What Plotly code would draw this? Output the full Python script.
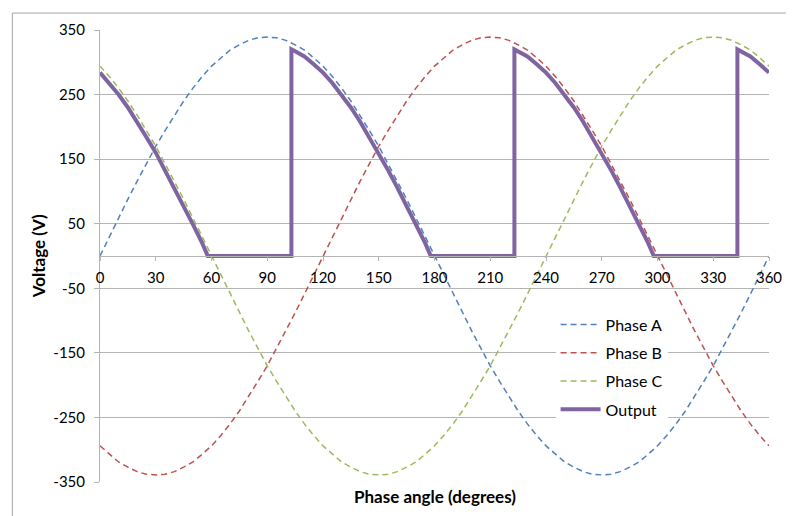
import plotly.graph_objects as go

# Phase angle samples (degrees)
angle_deg = [0, 5, 10, 15, 20, 25, 30, 35, 40, 45, 50, 55, 60, 65, 70, 75, 80, 85, 90,
             95, 100, 105, 110, 115, 120, 125, 130, 135, 140, 145, 150, 155, 160, 165, 170, 175, 180,
             185, 190, 195, 200, 205, 210, 215, 220, 225, 230, 235, 240, 245, 250, 255, 260, 265, 270,
             275, 280, 285, 290, 295, 300, 305, 310, 315, 320, 325, 330, 335, 340, 345, 350, 355, 360]

phase_a = [0, 30, 59, 88, 116, 143, 170, 194, 218, 240, 260, 278, 294, 307, 319, 327, 334, 338, 339,
           338, 334, 327, 319, 307, 294, 278, 260, 240, 218, 194, 170, 143, 116, 88, 59, 30, 0,
           -30, -59, -88, -116, -143, -170, -194, -218, -240, -260, -278, -294, -307, -319, -327, -334, -338, -339,
           -338, -334, -327, -319, -307, -294, -278, -260, -240, -218, -194, -170, -143, -116, -88, -59, -30, 0]

phase_b = [-294, -307, -319, -327, -334, -338, -339, -338, -334, -327, -319, -307,
           -294, -278, -260, -240, -218, -194, -170, -143, -116, -88, -59, -30,
           0, 30, 59, 88, 116, 143, 170, 194, 218, 240, 260, 278, 294, 307, 319, 327, 334, 338, 339,
           338, 334, 327, 319, 307, 294, 278, 260, 240, 218, 194, 170, 143, 116, 88, 59, 30, 0,
           -30, -59, -88, -116, -143, -170, -194, -218, -240, -260, -278, -294]

phase_c = [294, 278, 260, 240, 218, 194, 170, 143, 116, 88, 59, 30, 0,
           -30, -59, -88, -116, -143, -170, -194, -218, -240, -260, -278, -294, -307, -319, -327, -334, -338, -339,
           -338, -334, -327, -319, -307, -294, -278, -260, -240, -218, -194, -170, -143, -116, -88, -59, -30,
           0, 30, 59, 88, 116, 143, 170, 194, 218, 240, 260, 278, 294, 307, 319, 327, 334, 338, 339,
           338, 334, 327, 319, 307, 294]

output_deg = [0, 5, 10, 15, 20, 25, 30, 35, 40, 45, 50, 55, 58,
              103, 103, 105, 110, 115, 120, 125, 130, 135, 140, 145, 150, 155, 160, 165, 170, 175, 178,
              223, 223, 225, 230, 235, 240, 245, 250, 255, 260, 265, 270, 275, 280, 285, 290, 295, 298,
              343, 343, 345, 350, 355, 360]
output_v = [284, 268, 250, 230, 208, 184, 160, 133, 106, 78, 49, 20, 0,
            0, 320, 317, 309, 297, 284, 268, 250, 230, 208, 184, 160, 133, 106, 78, 49, 20, 0,
            0, 320, 317, 309, 297, 284, 268, 250, 230, 208, 184, 160, 133, 106, 78, 49, 20, 0,
            0, 320, 317, 309, 297, 284]

x_ticks = [0, 30, 60, 90, 120, 150, 180, 210, 240, 270, 300, 330, 360]
y_ticks = [-350, -250, -150, -50, 50, 150, 250, 350]
y_tick_labels = ["-350", "-250", "-150", "-50", "50", "150", "250", "350"]

FONT = "Lato"
GRID = "#B4B4B4"

fig = go.Figure()
fig.add_trace(go.Scatter(x=angle_deg, y=phase_a, mode="lines", name="Phase A", legendgroup="a",
                         line=dict(color="#4F81BD", width=1.5, dash="6px,4px")))
fig.add_trace(go.Scatter(x=angle_deg, y=phase_b, mode="lines", name="Phase B", legendgroup="b",
                         line=dict(color="#C0504D", width=1.5, dash="6px,4px")))
fig.add_trace(go.Scatter(x=angle_deg, y=phase_c, mode="lines", name="Phase C", legendgroup="c",
                         line=dict(color="#9BBB59", width=1.5, dash="6px,4px")))
fig.add_trace(go.Scatter(x=output_deg, y=output_v, mode="lines", name="Output", legendgroup="o",
                         line=dict(color="#8064A2", width=4)))

fig.update_layout(
    width=786, height=508,
    margin=dict(l=92, r=22, t=21, b=34),
    paper_bgcolor="white", plot_bgcolor="white",
    font=dict(family=FONT, size=15, color="black"),
    showlegend=True,
    legend=dict(x=0.681, y=0.386, xanchor="left", yanchor="top",
                bgcolor="white", borderwidth=0, font=dict(family=FONT, size=16),
                tracegroupgap=4.5, traceorder="grouped", itemwidth=40),
    xaxis=dict(range=[0, 360], tickvals=x_ticks, showgrid=False, zeroline=False,
               showline=True, linecolor=GRID, linewidth=1,
               ticks="outside", ticklen=4, tickcolor=GRID,
               anchor="free", position=0.5, ticklabelstandoff=4,
               tickfont=dict(family=FONT, size=15)),
    yaxis=dict(range=[-350, 350], tickvals=y_ticks, ticktext=y_tick_labels,
               showgrid=True, gridcolor=GRID, gridwidth=1,
               zeroline=False, showline=True, linecolor=GRID, linewidth=1,
               ticks="outside", ticklen=5, tickcolor=GRID, ticklabelstandoff=6,
               tickfont=dict(family=FONT, size=15)),
    annotations=[
        dict(text="<b>Phase angle (degrees)</b>", xref="paper", yref="paper", x=0.5, y=-0.0325,
             xanchor="center", yanchor="middle", showarrow=False, font=dict(family=FONT, size=17)),
        dict(text="<b>Voltage (V)</b>", xref="paper", yref="paper", x=-0.0923, y=0.5,
             xanchor="center", yanchor="middle", textangle=-90, showarrow=False,
             font=dict(family=FONT, size=17)),
    ],
    shapes=[
        dict(type="rect", xref="paper", yref="paper", x0=-0.131, y0=-0.2, x1=1.2, y1=1.0375,
             line=dict(color="#A6A6A6", width=1), fillcolor="rgba(0,0,0,0)", layer="below"),
    ],
)

fig.write_html("out.html")
